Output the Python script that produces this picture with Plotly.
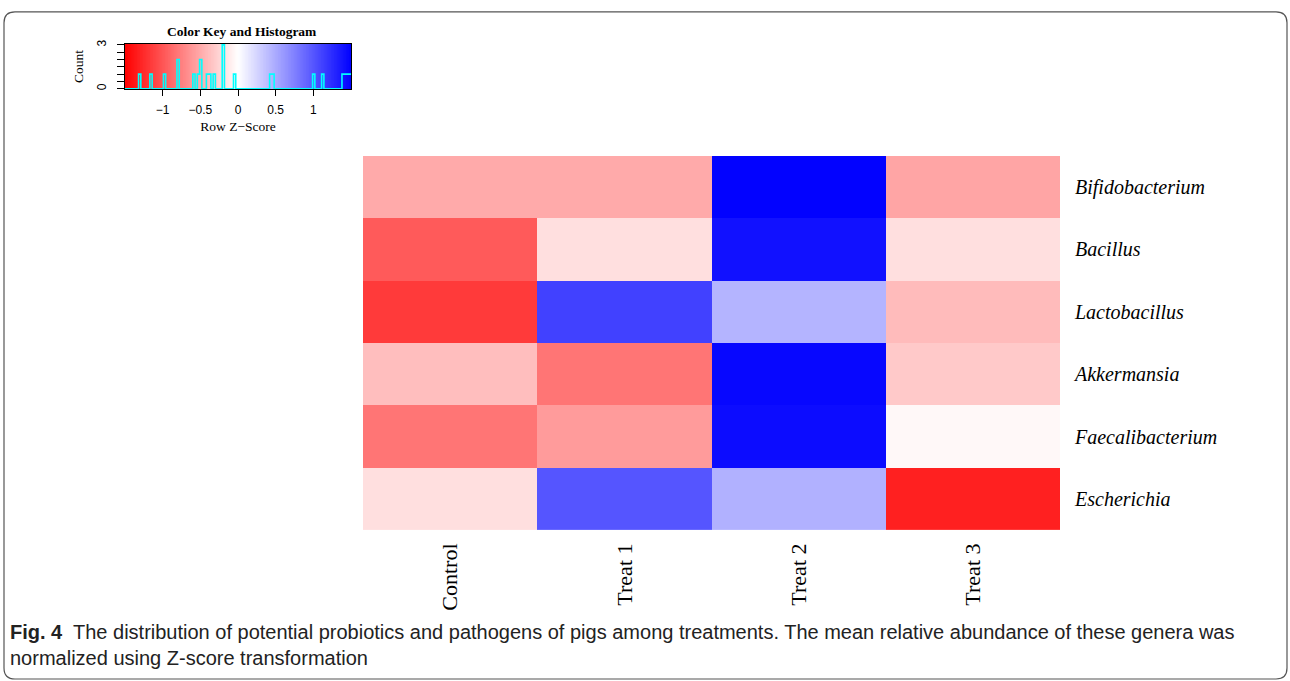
import numpy as np
import plotly.graph_objects as go

W, H = 1290, 681

genera = ["Bifidobacterium", "Bacillus", "Lactobacillus", "Akkermansia",
          "Faecalibacterium", "Escherichia"]
groups = ["Control", "Treat 1", "Treat 2", "Treat 3"]

# Row z-scores (rows top to bottom, columns Control..Treat 3)
bifidobacterium = [-0.50, -0.50, 1.49, -0.53]
bacillus = [-0.97, -0.19, 1.40, -0.19]
lactobacillus = [-1.16, 1.12, 0.44, -0.40]
akkermansia = [-0.38, -0.81, 1.46, -0.32]
faecalibacterium = [-0.81, -0.59, 1.43, -0.04]
escherichia = [-0.19, 1.00, 0.46, -1.31]

key_ticks = [-1, -0.5, 0, 0.5, 1]
key_ticktext = ["\u22121", "\u22120.5", "0", "0.5", "1"]

Z = [bifidobacterium, bacillus, lactobacillus, akkermansia, faecalibacterium, escherichia]
ZMIN, ZMAX = -1.5, 1.5
cscale = [[0, "rgb(255,0,0)"], [0.5, "rgb(255,255,255)"], [1, "rgb(0,0,255)"]]


def px(x):
    return x / W


def py(y):
    return 1 - y / H


fig = go.Figure()

# main heatmap
fig.add_trace(go.Heatmap(
    z=Z, x=groups, y=genera, zmin=ZMIN, zmax=ZMAX, colorscale=cscale,
    showscale=False, xaxis="x", yaxis="y", xgap=0, ygap=0,
    hovertemplate="%{y} / %{x}: %{z}<extra></extra>"))

# color key gradient
grad = np.linspace(ZMIN, ZMAX, 301)
fig.add_trace(go.Heatmap(
    z=[grad, grad], x=grad, y=[-1, 4], zmin=ZMIN, zmax=ZMAX, colorscale=cscale,
    showscale=False, xaxis="x2", yaxis="y2", hoverinfo="skip"))

# histogram of z-scores
vals = np.array(Z).ravel()
edges = np.linspace(ZMIN, ZMAX, 101)
counts, _ = np.histogram(vals, bins=edges)
hx = list(edges)
hy = list(counts) + [counts[-1]]
fig.add_trace(go.Scatter(
    x=hx, y=hy, mode="lines", line=dict(color="#00ffff", width=1.6, shape="hv"),
    xaxis="x2", yaxis="y2", hoverinfo="skip", showlegend=False))

serif = "Liberation Serif, Times New Roman, serif"
sans = "Liberation Sans, Arial, sans-serif"

fig.update_layout(
    width=W, height=H, margin=dict(l=0, r=0, t=0, b=0),
    paper_bgcolor="white", plot_bgcolor="white", showlegend=False,
    xaxis=dict(domain=[px(363), px(1060)], anchor="y", showgrid=False, zeroline=False,
               showline=False, tickangle=-90, ticks="", ticklabelstandoff=8,
               tickfont=dict(family=serif, size=22, color="black")),
    yaxis=dict(domain=[py(530), py(153)], anchor="x", side="right", showgrid=False,
               zeroline=False, showline=False, ticks="", autorange="reversed",
               ticklabelstandoff=14,
               tickvals=genera, ticktext=["<i>%s</i>" % g for g in genera],
               tickfont=dict(family=serif, size=20, color="black")),
    xaxis2=dict(domain=[px(125), px(351)], anchor="y2", range=[ZMIN, ZMAX],
                showgrid=False, zeroline=False, showline=True, mirror=True,
                linecolor="black", linewidth=1, ticks="outside", ticklen=6,
                tickcolor="black", tickvals=key_ticks, ticktext=key_ticktext,
                ticklabelstandoff=3,
                tickfont=dict(family=sans, size=12, color="black"),
                title=dict(text="Row Z\u2212Score", standoff=5,
                           font=dict(family=serif, size=13.5, color="black"))),
    yaxis2=dict(domain=[py(86), py(40)], anchor="x2", range=[-0.04, 3.08],
                showgrid=False, zeroline=False, showline=True, mirror=True,
                linecolor="black", linewidth=1, ticks="outside", ticklen=7,
                tickcolor="black", tickvals=[0, 0.5, 1, 1.5, 2, 2.5, 3],
                ticktext=["0", "", "", "", "", "", "3"], tickangle=-90,
                ticklabelstandoff=6,
                tickfont=dict(family=sans, size=12, color="black"),
                title=dict(text="Count", standoff=8,
                           font=dict(family=serif, size=13.5, color="black"))),
)

# key title
fig.add_annotation(x=px(242), y=py(28), xref="paper", yref="paper",
                   xanchor="center", yanchor="middle",
                   text="<b>Color Key and Histogram</b>", showarrow=False,
                   font=dict(family=serif, size=13.5, color="black"))

# caption
cap = "Liberation Sans Narrow, Arial Narrow, Liberation Sans, sans-serif"
fig.add_annotation(x=px(8), y=py(633), xref="paper", yref="paper", xanchor="left",
                   yanchor="middle", showarrow=False,
                   text="<b>Fig. 4</b>  The distribution of potential probiotics and pathogens of pigs among treatments. "
                        "The mean relative abundance of these genera was",
                   font=dict(family=cap, size=20, color="#222"))
fig.add_annotation(x=px(8), y=py(659), xref="paper", yref="paper", xanchor="left",
                   yanchor="middle", showarrow=False,
                   text="normalized using Z-score transformation",
                   font=dict(family=cap, size=20, color="#222"))

# rounded frame
x0, y0, x1, y1, r = 4, 8, 1287, 680, 11
path = (f"M {px(x0 + r)},{py(y0)} L {px(x1 - r)},{py(y0)} "
        f"Q {px(x1)},{py(y0)} {px(x1)},{py(y0 + r)} L {px(x1)},{py(y1 - r)} "
        f"Q {px(x1)},{py(y1)} {px(x1 - r)},{py(y1)} L {px(x0 + r)},{py(y1)} "
        f"Q {px(x0)},{py(y1)} {px(x0)},{py(y1 - r)} L {px(x0)},{py(y0 + r)} "
        f"Q {px(x0)},{py(y0)} {px(x0 + r)},{py(y0)} Z")
fig.add_shape(type="path", path=path, xref="paper", yref="paper",
              line=dict(color="#555", width=1.2))

fig.write_html("out.html", config={"displayModeBar": False},
               post_script="document.body.style.margin='0';document.body.style.overflow='hidden';")
